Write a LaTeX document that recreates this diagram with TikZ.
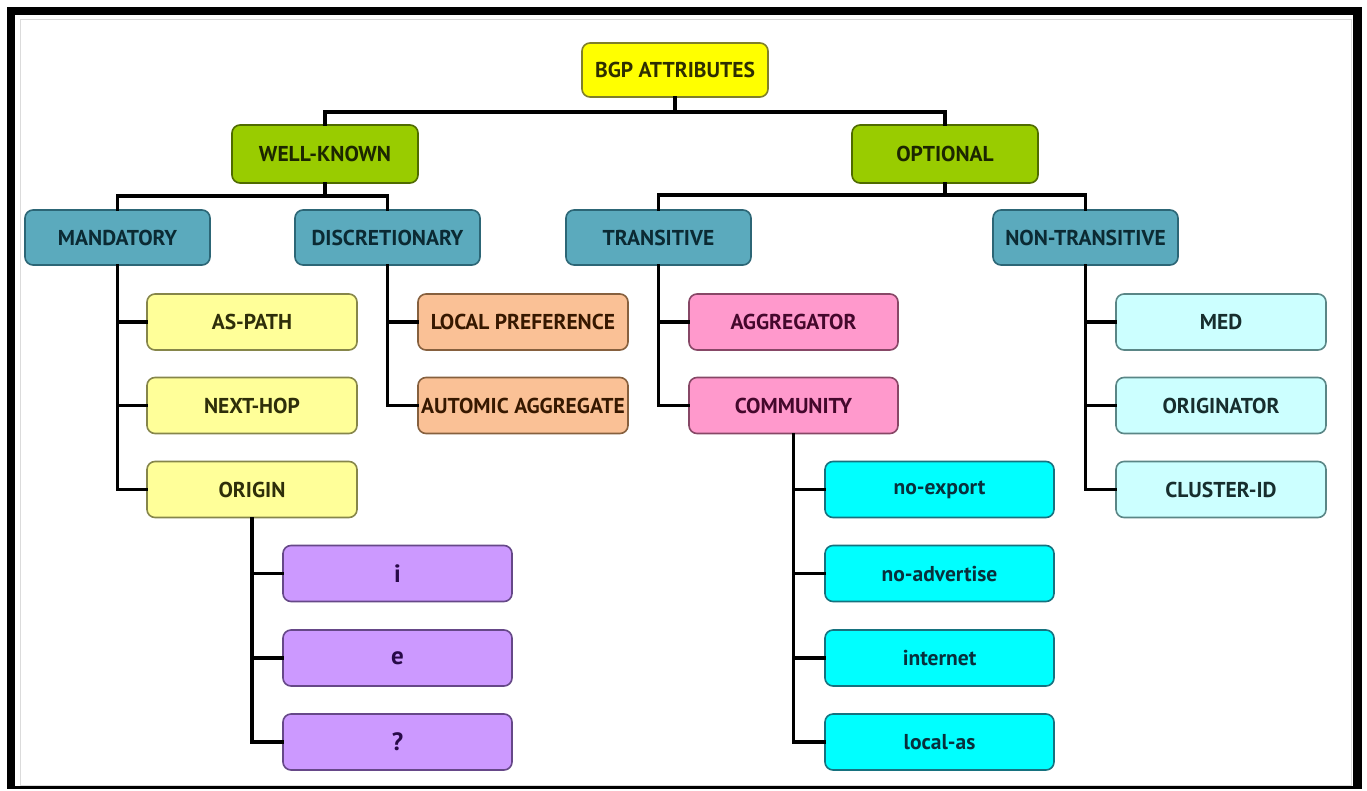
\documentclass[tikz,border=0pt]{standalone}
\usepackage{fontspec}
\setmainfont{PT Sans}
\usetikzlibrary{calc}

% box palette
\definecolor{rootF}{HTML}{FFFF00}\definecolor{rootD}{HTML}{7F7F2A}\definecolor{rootT}{HTML}{2E2E00}
\definecolor{grnF}{HTML}{99CC00}\definecolor{grnD}{HTML}{4F6B00}\definecolor{grnT}{HTML}{1C2600}
\definecolor{tealF}{HTML}{5BAABD}\definecolor{tealD}{HTML}{2C6676}\definecolor{tealT}{HTML}{0B2A33}
\definecolor{lyelF}{HTML}{FFFF99}\definecolor{lyelD}{HTML}{86864A}\definecolor{lyelT}{HTML}{2E2E0A}
\definecolor{orgF}{HTML}{FAC196}\definecolor{orgD}{HTML}{86603E}\definecolor{orgT}{HTML}{361800}
\definecolor{pnkF}{HTML}{FF99CC}\definecolor{pnkD}{HTML}{874766}\definecolor{pnkT}{HTML}{44082C}
\definecolor{lcyF}{HTML}{CCFFFF}\definecolor{lcyD}{HTML}{5A8686}\definecolor{lcyT}{HTML}{172E2E}
\definecolor{lavF}{HTML}{CC99FF}\definecolor{lavD}{HTML}{664888}\definecolor{lavT}{HTML}{280A48}
\definecolor{cyaF}{HTML}{00FFFF}\definecolor{cyaD}{HTML}{16727F}\definecolor{cyaT}{HTML}{08303C}

\tikzset{
  bx/.style={rounded corners=8pt, line width=1.6pt, inner sep=0pt,
             font=\fontsize{21.5}{24}\selectfont\bfseries, align=center},
  rootbox/.style={bx, fill=rootF, draw=rootD, text=rootT, minimum width=186pt, minimum height=54pt},
  grnbox/.style={bx, fill=grnF, draw=grnD, text=grnT, minimum width=186pt, minimum height=58pt},
  tealbox/.style={bx, fill=tealF, draw=tealD, text=tealT, minimum width=185pt, minimum height=55pt},
  lyelbox/.style={bx, fill=lyelF, draw=lyelD, text=lyelT, minimum width=210pt, minimum height=56pt},
  orgbox/.style={bx, fill=orgF, draw=orgD, text=orgT, minimum width=210pt, minimum height=56pt},
  pnkbox/.style={bx, fill=pnkF, draw=pnkD, text=pnkT, minimum width=209pt, minimum height=56pt},
  lcybox/.style={bx, fill=lcyF, draw=lcyD, text=lcyT, minimum width=210pt, minimum height=56pt},
  lavbox/.style={bx, fill=lavF, draw=lavD, text=lavT, minimum width=229pt, minimum height=56pt,
                 font=\fontsize{25}{28}\selectfont\bfseries},
  cyabox/.style={bx, fill=cyaF, draw=cyaD, text=cyaT, minimum width=229pt, minimum height=56pt},
  link/.style={line width=3.6pt, black, line cap=rect, line join=miter},
}

\begin{document}
\begin{tikzpicture}[x=1pt, y=-1pt]
\useasboundingbox (0,0) rectangle (1367,790);
\fill[white] (0,0) rectangle (1367,790);

% frame
\draw[black!14, line width=1pt] (20,19) rectangle (1351,785);
\fill[black] (7,7) rectangle (15,789);
\fill[black] (7,7) rectangle (1362,15);
\fill[black] (1353,7) rectangle (1362,789);
\fill[black] (7,786) rectangle (1362,789);

% junction points of the upper tree levels
\coordinate (r1) at (675,112);
\coordinate (w1) at (326,196);
\coordinate (o1) at (945,195);

% boxes
\node[rootbox] (root) at (675,70) {BGP ATTRIBUTES};
\node[grnbox] (wk)  at (325,154) {WELL-KNOWN};
\node[grnbox] (opt) at (945,154) {OPTIONAL};

\node[tealbox] (mand)   at (117.5,237.5)  {MANDATORY};
\node[tealbox] (disc)   at (387.5,237.5)  {DISCRETIONARY};
\node[tealbox] (trans)  at (658.5,237.5)  {TRANSITIVE};
\node[tealbox] (ntrans) at (1085.5,237.5) {NON-TRANSITIVE};

\node[lyelbox] (aspath) at (252,322)   {AS-PATH};
\node[lyelbox] (nhop)   at (252,405.5) {NEXT-HOP};
\node[lyelbox] (origin) at (252,489.5) {ORIGIN};

\node[orgbox] (lpref) at (523,322)   {LOCAL PREFERENCE};
\node[orgbox] (aagg)  at (523,405.5) {AUTOMIC AGGREGATE};

\node[pnkbox] (aggr) at (793.5,322)   {AGGREGATOR};
\node[pnkbox] (comm) at (793.5,405.5) {COMMUNITY};

\node[lcybox] (med)  at (1221,322)   {MED};
\node[lcybox] (orig) at (1221,405.5) {ORIGINATOR};
\node[lcybox] (clid) at (1221,489.5) {CLUSTER-ID};

\node[lavbox] (oi) at (397.5,573.5) {i};
\node[lavbox] (oe) at (397.5,658)   {e};
\node[lavbox] (oq) at (397.5,742)   {?};

\node[cyabox] (noexp) at (939.5,489.5) {no-export};
\node[cyabox] (noadv) at (939.5,573.5) {no-advertise};
\node[cyabox] (inet)  at (939.5,658)   {internet};
\node[cyabox] (locas) at (939.5,742)   {local-as};

% connectors
\draw[link] (root.south) -- (r1);
\draw[link] (wk.north) |- (r1) -| (opt.north);

\draw[link] (wk.south) -- (wk.south |- w1);
\draw[link] (mand.north) |- (w1) -| (disc.north);
\draw[link] (opt.south) -- (opt.south |- o1);
\draw[link] (trans.north) |- (o1) -| (ntrans.north);

\foreach \c in {aspath,nhop,origin} \draw[link] (mand.south) |- (\c.west);
\foreach \c in {lpref,aagg} \draw[link] (disc.south) |- (\c.west);
\foreach \c in {aggr,comm} \draw[link] (trans.south) |- (\c.west);
\foreach \c in {med,orig,clid} \draw[link] (ntrans.south) |- (\c.west);
\foreach \c in {oi,oe,oq} \draw[link] (origin.south) |- (\c.west);
\foreach \c in {noexp,noadv,inet,locas} \draw[link] (comm.south) |- (\c.west);
\end{tikzpicture}
\end{document}
